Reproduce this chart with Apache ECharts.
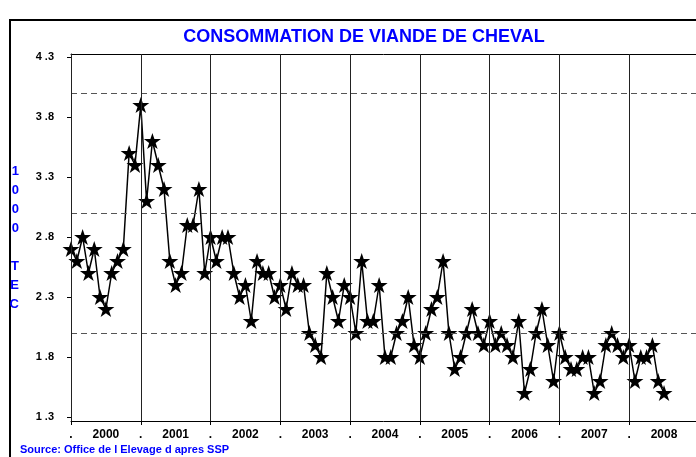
<!DOCTYPE html>
<html>
<head>
<meta charset="utf-8">
<script src="https://cdn.jsdelivr.net/npm/echarts@6/dist/echarts.min.js"></script>
<style>
  html, body { margin: 0; padding: 0; background: #fff; }
  #main { width: 696px; height: 457px; }
</style>
</head>
<body>
<div id="main"></div>
<script>
// consommation mensuelle, janvier 2000 -> juillet 2008 (1000 TEC)
var years = ['2000', '2001', '2002', '2003', '2004', '2005', '2006', '2007', '2008'];
var yTicks = [1.3, 1.8, 2.3, 2.8, 3.3, 3.8, 4.3];
var refLines = [2.0, 3.0, 4.0];
var conso = [
  2.7, 2.6, 2.8, 2.5, 2.7, 2.3, 2.2, 2.5, 2.6, 2.7, 3.5, 3.4,  // 2000
  3.9, 3.1, 3.6, 3.4, 3.2, 2.6, 2.4, 2.5, 2.9, 2.9, 3.2, 2.5,  // 2001
  2.8, 2.6, 2.8, 2.8, 2.5, 2.3, 2.4, 2.1, 2.6, 2.5, 2.5, 2.3,  // 2002
  2.4, 2.2, 2.5, 2.4, 2.4, 2.0, 1.9, 1.8, 2.5, 2.3, 2.1, 2.4,  // 2003
  2.3, 2.0, 2.6, 2.1, 2.1, 2.4, 1.8, 1.8, 2.0, 2.1, 2.3, 1.9,  // 2004
  1.8, 2.0, 2.2, 2.3, 2.6, 2.0, 1.7, 1.8, 2.0, 2.2, 2.0, 1.9,  // 2005
  2.1, 1.9, 2.0, 1.9, 1.8, 2.1, 1.5, 1.7, 2.0, 2.2, 1.9, 1.6,  // 2006
  2.0, 1.8, 1.7, 1.7, 1.8, 1.8, 1.5, 1.6, 1.9, 2.0, 1.9, 1.8,  // 2007
  1.9, 1.6, 1.8, 1.8, 1.9, 1.6, 1.5                            // 2008
];

var starPath = 'path://M50 0 L61.23 34.55 L97.55 34.55 L68.16 55.9 L79.39 90.45 L50 69.1 L20.61 90.45 L31.84 55.9 L2.45 34.55 L38.77 34.55 Z';

var yearStarts = years.map(function (y, i) { return i * 12; });
var yearMids = years.map(function (y, i) { return i * 12 + 6; });

var chart = echarts.init(document.getElementById('main'));

var option = {
  animation: false,
  title: [{
    text: 'CONSOMMATION DE VIANDE DE CHEVAL',
    left: 359,
    top: 23,
    textAlign: 'center',
    textStyle: { color: '#0000ff', fontSize: 18, fontWeight: 'bold', fontFamily: 'Liberation Sans' }
  }, {
    text: 'Source: Office de l Elevage d apres SSP',
    left: 15,
    top: 439,
    textStyle: { color: '#0000ff', fontSize: 11, fontWeight: 'bold', fontFamily: 'Liberation Sans' }
  }],
  graphic: [{
    type: 'rect',
    shape: { x: 10, y: 20, width: 720, height: 460 },
    style: { fill: 'none', stroke: '#000', lineWidth: 2 },
    silent: true
  }],
  grid: {
    left: 71, right: 0, top: 54, bottom: 36
  },
  xAxis: [{
    type: 'value',
    min: 0,
    max: 107.5,
    splitLine: { show: false },
    axisLine: { lineStyle: { color: '#000' } },
    axisTick: { customValues: yearStarts, length: 4, lineStyle: { color: '#000' } },
    axisLabel: {
      customValues: yearStarts.concat(yearMids),
      color: '#000', fontSize: 12, fontWeight: 'bold', fontFamily: 'Liberation Sans', margin: 8,
      formatter: function (v) {
        if (v % 12 === 0) return '.';
        return years[(v - 6) / 12];
      }
    }
  }, {
    type: 'value',
    position: 'top',
    min: 0,
    max: 107.5,
    splitLine: { show: false },
    axisLine: { show: true, lineStyle: { color: '#000' } },
    axisTick: { show: false },
    axisLabel: { show: false }
  }],
  yAxis: {
    type: 'value',
    min: 1.2667,
    max: 4.325,
    offset: 3,
    name: '1\n0\n0\n0\n\nT\nE\nC',
    nameLocation: 'middle',
    nameRotate: 0,
    nameGap: 49,
    nameTextStyle: { color: '#0000ff', fontSize: 13, fontWeight: 'bold', fontFamily: 'Liberation Sans', lineHeight: 19 },
    splitLine: { show: false },
    axisLine: { show: true, lineStyle: { color: '#000' } },
    axisTick: { customValues: yTicks, length: 4, lineStyle: { color: '#000' } },
    axisLabel: {
      customValues: yTicks,
      color: '#000', fontSize: 11, fontWeight: 'bold', fontFamily: 'Liberation Sans', margin: 14,
      formatter: function (v) { return v.toFixed(1).replace('.', ' .'); }
    }
  },
  series: [{
    type: 'line',
    data: [],
    z: 1,
    markLine: {
      silent: true,
      symbol: ['none', 'none'],
      label: { show: false },
      data: refLines.map(function (v) {
        return { yAxis: v, lineStyle: { type: [6, 4], color: '#555', width: 1 } };
      }).concat(yearStarts.map(function (v) {
        return { xAxis: v, lineStyle: { type: 'solid', color: '#222', width: 1 } };
      }))
    }
  }, {
    type: 'line',
    z: 3,
    data: conso.map(function (v, i) { return [i, v]; }),
    symbol: starPath,
    symbolSize: [17, 16],
    itemStyle: { color: '#000' },
    lineStyle: { color: '#000', width: 1.5 }
  }]
};

chart.setOption(option);
</script>
</body>
</html>
